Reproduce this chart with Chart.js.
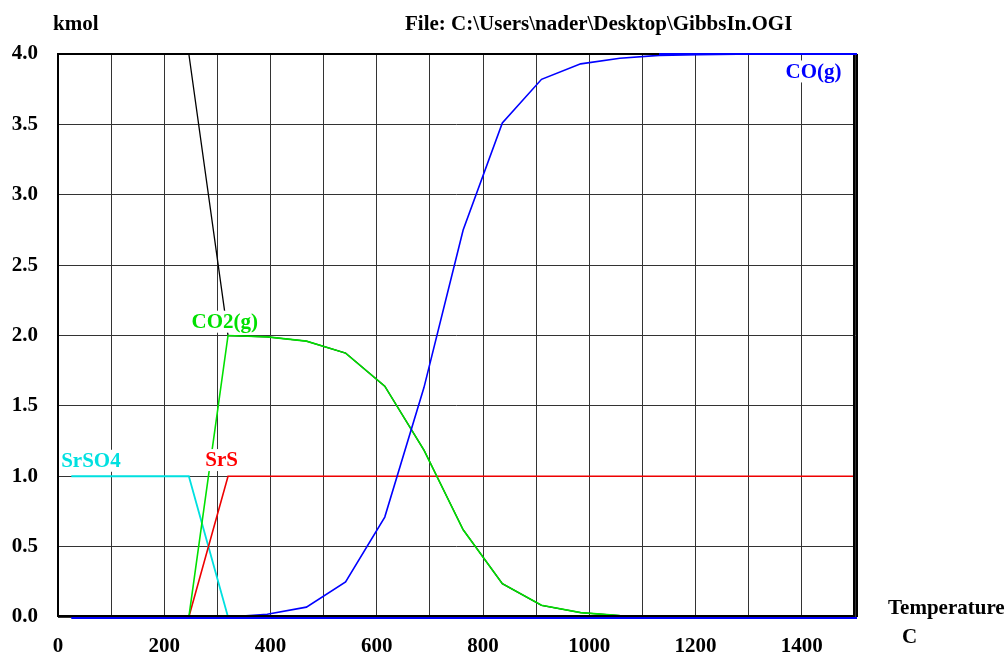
<!DOCTYPE html>
<html>
<head>
<meta charset="utf-8">
<script src="https://cdn.jsdelivr.net/npm/chart.js@4/dist/chart.umd.min.js"></script>
<style>
  body { margin: 0; background: #fff; }
  canvas { display: block; }
</style>
</head>
<body>
<canvas id="chart" width="1007" height="658"></canvas>
<script>
// equilibrium amounts (kmol) vs temperature (C)
const temps = [25, 98.75, 172.5, 246.25, 320, 393.75, 467.5, 541.25, 615, 688.75, 762.5,
  836.25, 910, 983.75, 1057.5, 1131.25, 1205, 1278.75, 1352.5, 1426.25, 1500];
const coGas = [0, 0, 0, 0, 0, 0.02, 0.07, 0.25, 0.71, 1.63, 2.75, 3.51, 3.82, 3.93, 3.97,
  3.99, 3.995, 3.998, 4.0, 4.0, 4.0];
const co2Gas = [0, 0, 0, 0, 2.0, 1.99, 1.96, 1.875, 1.64, 1.186, 0.62, 0.237, 0.083, 0.031,
  0.01, 0.004, 0.002, 0.001, 0, 0, 0];
const carbon = [4, 4, 4, 4, 2.0, 1.99, 1.96, 1.875, 1.64, 1.186, 0.62, 0.237, 0.083, 0.031,
  0.01, 0.004, 0.002, 0.001, 0, 0, 0];
const srs = [0, 0, 0, 0, 1, 1, 1, 1, 1, 1, 1, 1, 1, 1, 1, 1, 1, 1, 1, 1, 1];
const srso4 = [1, 1, 1, 1, 0, 0, 0, 0, 0, 0, 0, 0, 0, 0, 0, 0, 0, 0, 0, 0, 0];
const minor = [0, 0, 0, 0, 0, 0, 0, 0, 0, 0, 0, 0, 0, 0, 0, 0, 0, 0, 0, 0, 0];

const yTicks = [0, 0.5, 1.0, 1.5, 2.0, 2.5, 3.0, 3.5, 4.0];

// in-plot series labels, anchored in data units
const seriesLabels = [
  { text: "CO(g)", t: 1422, v: 3.876, color: "#0000ff" },
  { text: "CO2(g)", t: 314, v: 2.098, color: "#00e000" },
  { text: "SrSO4", t: 62, v: 1.11, color: "#00e0e0" },
  { text: "SrS", t: 308, v: 1.115, color: "#ff0000" },
];

const FONT = 'bold 21px "Liberation Serif", "Times New Roman", serif';
const tickFont = { family: '"Liberation Serif", serif', size: 21, weight: "bold" };

const points = (values) => values.map((v, i) => ({ x: temps[i], y: v }));

const lineSet = (label, values, color, width) => ({
  label: label,
  data: points(values),
  borderColor: color,
  borderWidth: width,
  pointRadius: 0,
  tension: 0,
  fill: false,
});

const decorations = {
  id: "decorations",
  afterDatasetsDraw(chart) {
    const { ctx, chartArea: a, scales } = chart;
    ctx.save();
    // frame
    ctx.strokeStyle = "#000";
    ctx.lineWidth = 2;
    ctx.beginPath();
    ctx.moveTo(a.left, a.bottom - 1);
    ctx.lineTo(a.left, a.top);
    ctx.lineTo(a.right, a.top);
    ctx.stroke();
    ctx.beginPath();
    ctx.moveTo(a.left - 1, a.bottom - 1);
    ctx.lineTo(a.right, a.bottom - 1);
    ctx.stroke();
    ctx.beginPath();
    ctx.moveTo(a.right - 1, a.top);
    ctx.lineTo(a.right - 1, a.bottom);
    ctx.moveTo(a.right + 2, a.top);
    ctx.lineTo(a.right + 2, a.bottom);
    ctx.stroke();
    // blue zero line shows just under the axis
    ctx.strokeStyle = "#0000ff";
    ctx.lineWidth = 2;
    ctx.beginPath();
    ctx.moveTo(scales.x.getPixelForValue(temps[0]), a.bottom + 1);
    ctx.lineTo(a.right + 2, a.bottom + 1);
    ctx.stroke();
    // CO reaches 4.0 along the top border
    ctx.beginPath();
    ctx.moveTo(scales.x.getPixelForValue(temps[15]), a.top);
    ctx.lineTo(a.right + 2, a.top);
    ctx.stroke();

    // series labels with white boxes
    ctx.font = FONT;
    ctx.textAlign = "center";
    ctx.textBaseline = "middle";
    seriesLabels.forEach((l) => {
      const px = scales.x.getPixelForValue(l.t);
      const py = scales.y.getPixelForValue(l.v);
      const w = ctx.measureText(l.text).width;
      ctx.fillStyle = "#fff";
      ctx.fillRect(px - w / 2 - 2, py - 11, w + 4, 22);
      ctx.fillStyle = l.color;
      ctx.fillText(l.text, px, py + 1);
    });
    ctx.restore();
  },
  afterDraw(chart) {
    const { ctx } = chart;
    ctx.save();
    ctx.font = FONT;
    ctx.fillStyle = "#000";
    ctx.textBaseline = "middle";
    ctx.textAlign = "left";
    ctx.fillText("kmol", 53, 25);
    ctx.fillText("File: C:\\Users\\nader\\Desktop\\GibbsIn.OGI", 405, 25);
    ctx.fillText("Temperature", 888, 609);
    ctx.fillText("C", 902, 638);
    ctx.restore();
  },
};

new Chart(document.getElementById("chart"), {
  type: "line",
  data: {
    datasets: [
      lineSet("minor", minor, "#0000ff", 2),
      lineSet("CO(g)", coGas, "#0000ff", 1.6),
      lineSet("CO2(g)", co2Gas, "#00e000", 1.6),
      lineSet("SrS", srs, "#ee0000", 1.6),
      lineSet("SrSO4", srso4, "#00e0e0", 1.8),
      lineSet("C", carbon, "#000000", 1.3),
    ],
  },
  options: {
    responsive: false,
    animation: false,
    layout: { padding: { left: 0, top: 54, right: 152, bottom: 0 } },
    plugins: {
      legend: { display: false },
      tooltip: { enabled: false },
    },
    scales: {
      x: {
        type: "linear",
        min: 0,
        max: 1500,
        afterFit: (scale) => { scale.height = 41; },
        border: { display: false },
        grid: { color: "#333", lineWidth: 1, drawTicks: false },
        ticks: {
          stepSize: 100,
          autoSkip: false,
          maxRotation: 0,
          padding: 17,
          color: "#000",
          font: tickFont,
          callback: (v) => (v % 200 === 0 && v < 1500 ? String(v) : ""),
        },
      },
      y: {
        min: 0,
        max: 4,
        afterFit: (scale) => { scale.width = 58; },
        afterBuildTicks: (scale) => { scale.ticks = yTicks.map((v) => ({ value: v })); },
        border: { display: false },
        grid: { color: "#333", lineWidth: 1, drawTicks: false },
        ticks: {
          padding: 20,
          color: "#000",
          font: tickFont,
          callback: (v) => Number(v).toFixed(1),
        },
      },
    },
  },
  plugins: [decorations],
});
</script>
</body>
</html>
